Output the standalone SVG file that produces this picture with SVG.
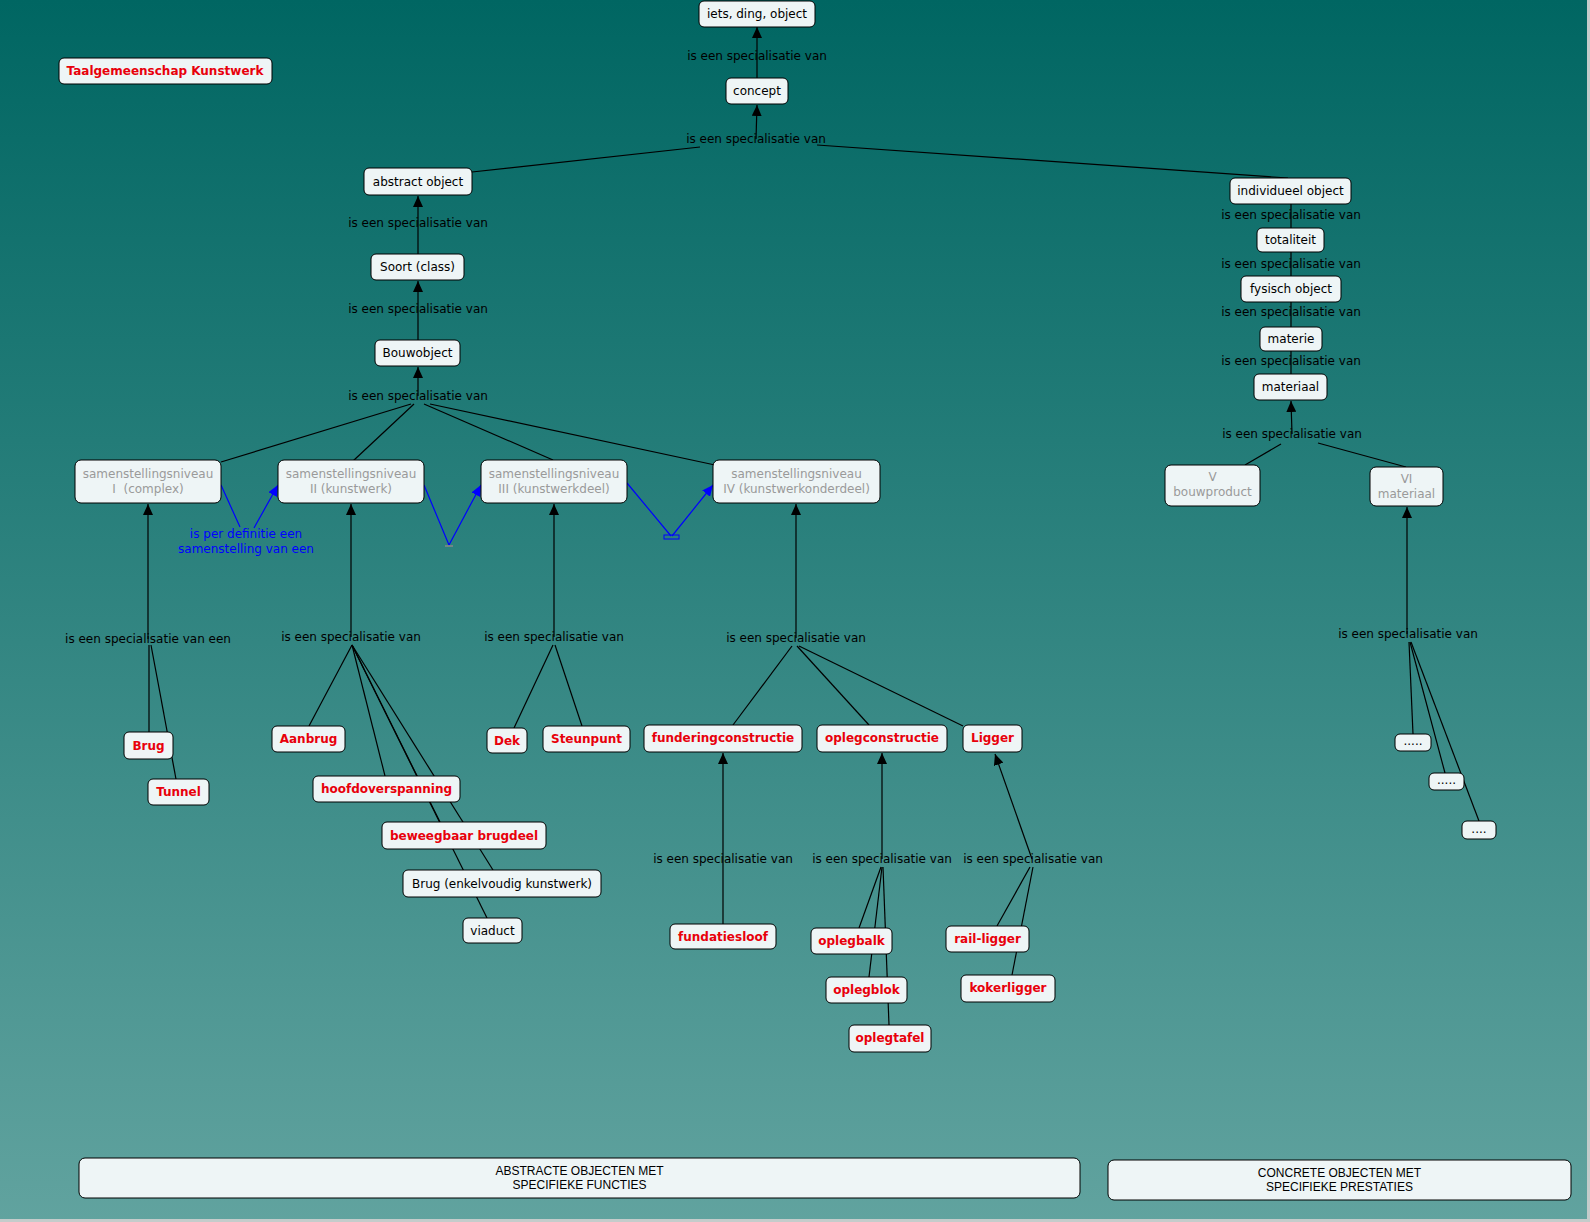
<svg xmlns="http://www.w3.org/2000/svg" width="1590" height="1222" viewBox="0 0 1590 1222">
<defs>
<linearGradient id="bg" x1="0" y1="0" x2="0" y2="1">
<stop offset="0" stop-color="#006662"/>
<stop offset="1" stop-color="#61a39f"/>
</linearGradient>
<marker id="arr" viewBox="0 0 11 10" refX="11" refY="5" markerWidth="11" markerHeight="10" markerUnits="userSpaceOnUse" orient="auto"><path d="M0,0 L11,5 L0,10 z" fill="#000"/></marker>
<marker id="barr" viewBox="0 0 11 10" refX="11" refY="5" markerWidth="11" markerHeight="10" markerUnits="userSpaceOnUse" orient="auto"><path d="M0,0 L11,5 L0,10 z" fill="#0000ff"/></marker>
<style>
.n rect{fill:#eef5f6;stroke:#000;stroke-width:1}
text{font-family:"DejaVu Sans",Verdana,sans-serif;font-size:12px;text-anchor:middle}
.t{fill:#000}
.r{fill:#e8000b;font-weight:bold}
.g{fill:#9a9a9a}
.b{fill:#0000ff}
.cap{font-family:"Liberation Sans",Arial,sans-serif;font-size:12px;fill:#000}
.c path{fill:none;stroke:#000;stroke-width:1.2}
.c path.a{marker-end:url(#arr)}
.c path.bl{stroke:#0000ff;stroke-width:1.2}
.c path.ba{stroke:#0000ff;stroke-width:1.2;marker-end:url(#barr)}
</style>
</defs>
<rect x="0" y="0" width="1590" height="1222" fill="url(#bg)"/>
<rect x="0" y="1219" width="1590" height="3" fill="#c4cccb"/>
<rect x="1587" y="0" width="3" height="1222" fill="#c4cccb"/>

<g id="connectors" class="c">
<path class="a" d="M757,78 L757,27"/>
<path class="a" d="M756,139 L757,105"/>
<path d="M700,147 L472,172"/>
<path d="M817,145 L1288,178"/>
<path class="a" d="M418,254 L418,196"/>
<path class="a" d="M418,340 L418,281"/>
<path class="a" d="M418,396 L418,367"/>
<path d="M411,404 L221,462"/>
<path d="M414,404 L353,461"/>
<path d="M424,404 L553,460"/>
<path d="M430,404 L715,465"/>
<path class="a" d="M148,639 L148,504"/>
<path d="M149,645 L149,732"/>
<path d="M151,645 L176,779"/>
<path class="a" d="M351,637 L351,504"/>
<path d="M352,645 L309,726"/>
<path d="M352,645 L385,776"/>
<path d="M352,645 L440,822"/>
<path d="M352,645 L493,870"/>
<path d="M352,645 L487,918"/>
<path class="a" d="M554,637 L554,504"/>
<path d="M553,645 L514,728"/>
<path d="M555,645 L582,726"/>
<path class="a" d="M796,638 L796,504"/>
<path d="M792,646 L733,725"/>
<path d="M797,646 L869,725"/>
<path d="M799,646 L963,726"/>
<path class="a" d="M723,924 L723,753"/>
<path class="a" d="M882,859 L882,753"/>
<path d="M881,867 L859,928"/>
<path d="M882,867 L869,977"/>
<path d="M883,867 L889,1025"/>
<path class="a" d="M1032,859 L995,754"/>
<path d="M1030,867 L997,926"/>
<path d="M1033,867 L1012,975"/>
<path d="M1291,204 L1291,228"/>
<path d="M1291,252 L1291,276"/>
<path d="M1291,302 L1291,327"/>
<path d="M1291,351 L1291,374"/>
<path class="a" d="M1292,434 L1291,401"/>
<path d="M1281,444 L1245,465"/>
<path d="M1318,443 L1406,467"/>
<path class="a" d="M1407,634 L1407,507"/>
<path d="M1409,642 L1413,734"/>
<path d="M1410,642 L1445,773"/>
<path d="M1411,642 L1479,821"/>
<path class="bl" d="M221,485 L240,527"/>
<path class="ba" d="M254,528 L278,485"/>
<path class="bl" d="M424,485 L449,545"/>
<path class="ba" d="M449,545 L481,485"/>
<path d="M445,546 L453,546" style="stroke:#888;stroke-width:1.5"/>
<path class="bl" d="M627,483 L671,536"/>
<path class="ba" d="M672,536 L713,485"/>
<rect x="664" y="535" width="15" height="4" fill="none" stroke="#0000ff" stroke-width="1"/>
</g>

<g id="edge-labels">
<text class="t" x="757" y="60">is een specialisatie van</text>
<text class="t" x="756" y="143">is een specialisatie van</text>
<text class="t" x="418" y="227">is een specialisatie van</text>
<text class="t" x="418" y="313">is een specialisatie van</text>
<text class="t" x="418" y="400">is een specialisatie van</text>
<text class="t" x="1291" y="219">is een specialisatie van</text>
<text class="t" x="1291" y="268">is een specialisatie van</text>
<text class="t" x="1291" y="316">is een specialisatie van</text>
<text class="t" x="1291" y="365">is een specialisatie van</text>
<text class="t" x="1292" y="438">is een specialisatie van</text>
<text class="t" x="148" y="643">is een specialisatie van een</text>
<text class="t" x="351" y="641">is een specialisatie van</text>
<text class="t" x="554" y="641">is een specialisatie van</text>
<text class="t" x="796" y="642">is een specialisatie van</text>
<text class="t" x="723" y="863">is een specialisatie van</text>
<text class="t" x="882" y="863">is een specialisatie van</text>
<text class="t" x="1033" y="863">is een specialisatie van</text>
<text class="t" x="1408" y="638">is een specialisatie van</text>
<text class="b" x="246" y="538">is per definitie een</text>
<text class="b" x="246" y="553">samenstelling van een</text>
</g>

<g id="n-iets" class="n"><rect x="699" y="1" width="116" height="26" rx="5"/><text class="t" x="757" y="18">iets, ding, object</text></g>
<g id="n-taal" class="n"><rect x="59" y="58" width="213" height="26" rx="5"/><text class="r" x="165" y="75">Taalgemeenschap Kunstwerk</text></g>
<g id="n-concept" class="n"><rect x="726" y="78" width="62" height="26" rx="5"/><text class="t" x="757" y="95">concept</text></g>
<g id="n-abstract" class="n"><rect x="364" y="168" width="108" height="27" rx="5"/><text class="t" x="418" y="186">abstract object</text></g>
<g id="n-individueel" class="n"><rect x="1230" y="178" width="121" height="26" rx="5"/><text class="t" x="1290.5" y="195">individueel object</text></g>
<g id="n-totaliteit" class="n"><rect x="1257" y="228" width="67" height="24" rx="5"/><text class="t" x="1290.5" y="244">totaliteit</text></g>
<g id="n-fysisch" class="n"><rect x="1241" y="276" width="100" height="26" rx="5"/><text class="t" x="1291" y="293">fysisch object</text></g>
<g id="n-materie" class="n"><rect x="1260" y="327" width="62" height="24" rx="5"/><text class="t" x="1291" y="343">materie</text></g>
<g id="n-materiaal" class="n"><rect x="1254" y="374" width="73" height="26" rx="5"/><text class="t" x="1290.5" y="391">materiaal</text></g>
<g id="n-soort" class="n"><rect x="371" y="254" width="93" height="26" rx="5"/><text class="t" x="417.5" y="271">Soort (class)</text></g>
<g id="n-bouwobject" class="n"><rect x="375" y="340" width="85" height="26" rx="5"/><text class="t" x="417.5" y="357">Bouwobject</text></g>
<g id="n-niv1" class="n"><rect x="75" y="460" width="146" height="43" rx="6"/><text class="g" x="148" y="478">samenstellingsniveau</text><text class="g" x="148" y="493" xml:space="preserve">I  (complex)</text></g>
<g id="n-niv2" class="n"><rect x="278" y="460" width="146" height="43" rx="6"/><text class="g" x="351" y="478">samenstellingsniveau</text><text class="g" x="351" y="493">II (kunstwerk)</text></g>
<g id="n-niv3" class="n"><rect x="481" y="460" width="146" height="43" rx="6"/><text class="g" x="554" y="478">samenstellingsniveau</text><text class="g" x="554" y="493">III (kunstwerkdeel)</text></g>
<g id="n-niv4" class="n"><rect x="713" y="460" width="167" height="43" rx="6"/><text class="g" x="796.5" y="478">samenstellingsniveau</text><text class="g" x="796.5" y="493">IV (kunstwerkonderdeel)</text></g>
<g id="n-niv5" class="n"><rect x="1165" y="465" width="95" height="41" rx="6"/><text class="g" x="1212.5" y="481">V</text><text class="g" x="1212.5" y="496">bouwproduct</text></g>
<g id="n-niv6" class="n"><rect x="1370" y="467" width="73" height="39" rx="6"/><text class="g" x="1406.5" y="483">VI</text><text class="g" x="1406.5" y="498">materiaal</text></g>
<g id="n-brug" class="n"><rect x="124" y="732" width="49" height="27" rx="5"/><text class="r" x="148.5" y="750">Brug</text></g>
<g id="n-tunnel" class="n"><rect x="148" y="779" width="61" height="26" rx="5"/><text class="r" x="178.5" y="796">Tunnel</text></g>
<g id="n-aanbrug" class="n"><rect x="272" y="726" width="73" height="26" rx="5"/><text class="r" x="308.5" y="743">Aanbrug</text></g>
<g id="n-hoofd" class="n"><rect x="313" y="776" width="147" height="26" rx="5"/><text class="r" x="386.5" y="793">hoofdoverspanning</text></g>
<g id="n-beweeg" class="n"><rect x="382" y="822" width="164" height="27" rx="5"/><text class="r" x="464" y="840">beweegbaar brugdeel</text></g>
<g id="n-brugenk" class="n"><rect x="403" y="870" width="198" height="27" rx="5"/><text class="t" x="502" y="888">Brug (enkelvoudig kunstwerk)</text></g>
<g id="n-viaduct" class="n"><rect x="463" y="918" width="59" height="25" rx="5"/><text class="t" x="492.5" y="935">viaduct</text></g>
<g id="n-dek" class="n"><rect x="487" y="728" width="40" height="25" rx="5"/><text class="r" x="507" y="745">Dek</text></g>
<g id="n-steunpunt" class="n"><rect x="543" y="726" width="87" height="26" rx="5"/><text class="r" x="586.5" y="743">Steunpunt</text></g>
<g id="n-fundering" class="n"><rect x="644" y="725" width="158" height="27" rx="5"/><text class="r" x="723" y="742">funderingconstructie</text></g>
<g id="n-opleg" class="n"><rect x="817" y="725" width="130" height="27" rx="5"/><text class="r" x="882" y="742">oplegconstructie</text></g>
<g id="n-ligger" class="n"><rect x="963" y="725" width="59" height="27" rx="5"/><text class="r" x="992.5" y="742">Ligger</text></g>
<g id="n-fundatiesloof" class="n"><rect x="670" y="924" width="106" height="25" rx="5"/><text class="r" x="723" y="941">fundatiesloof</text></g>
<g id="n-oplegbalk" class="n"><rect x="811" y="928" width="81" height="26" rx="5"/><text class="r" x="851.5" y="945">oplegbalk</text></g>
<g id="n-oplegblok" class="n"><rect x="826" y="977" width="81" height="26" rx="5"/><text class="r" x="866.5" y="994">oplegblok</text></g>
<g id="n-oplegtafel" class="n"><rect x="849" y="1025" width="82" height="27" rx="5"/><text class="r" x="890" y="1042">oplegtafel</text></g>
<g id="n-railligger" class="n"><rect x="946" y="926" width="83" height="26" rx="5"/><text class="r" x="987.5" y="943">rail-ligger</text></g>
<g id="n-kokerligger" class="n"><rect x="961" y="975" width="94" height="27" rx="5"/><text class="r" x="1008" y="992">kokerligger</text></g>
<g id="n-dots1" class="n"><rect x="1395" y="734" width="36" height="17" rx="5"/><text class="t" x="1413" y="745">.....</text></g>
<g id="n-dots2" class="n"><rect x="1429" y="773" width="35" height="17" rx="5"/><text class="t" x="1446.5" y="784">.....</text></g>
<g id="n-dots3" class="n"><rect x="1462" y="821" width="34" height="18" rx="5"/><text class="t" x="1479" y="833">....</text></g>
<g id="n-abstracte" class="n"><rect x="79" y="1158" width="1001" height="40" rx="6"/><text class="cap" x="579.5" y="1175">ABSTRACTE OBJECTEN MET</text><text class="cap" x="579.5" y="1189">SPECIFIEKE FUNCTIES</text></g>
<g id="n-concrete" class="n"><rect x="1108" y="1160" width="463" height="40" rx="6"/><text class="cap" x="1339.5" y="1177">CONCRETE OBJECTEN MET</text><text class="cap" x="1339.5" y="1191">SPECIFIEKE PRESTATIES</text></g>
</svg>
